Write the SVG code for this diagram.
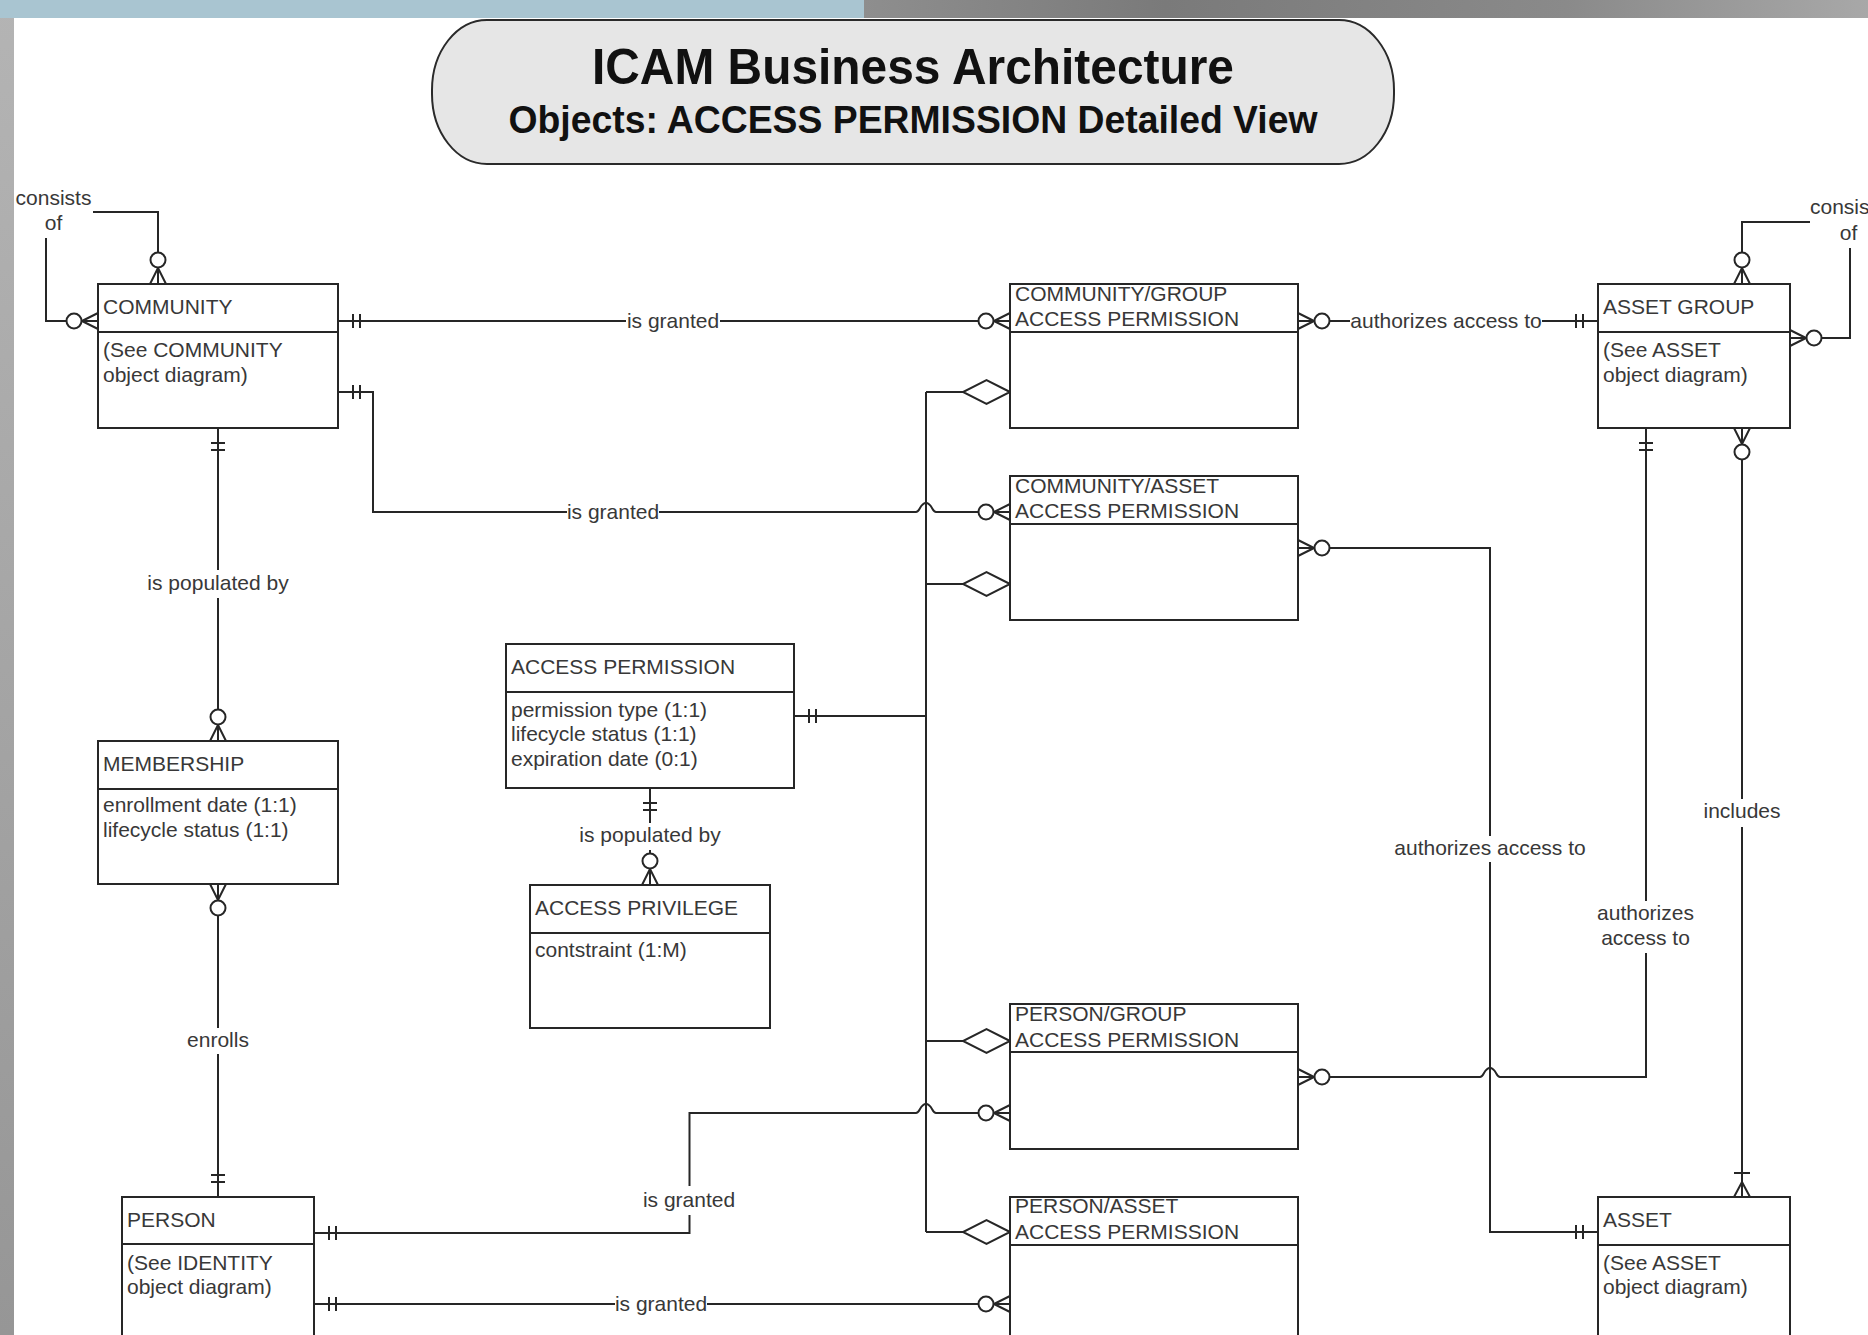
<svg xmlns="http://www.w3.org/2000/svg" xmlns:xlink="http://www.w3.org/1999/xlink" width="1868" height="1335" viewBox="0 0 1868 1335">
<style>
.box{fill:#ffffff;stroke:#262626;stroke-width:2}
.div{stroke:#262626;stroke-width:2}
.t{font-family:"Liberation Sans",Arial,sans-serif;font-size:21px;fill:#383838}
.lbl{font-family:"Liberation Sans",Arial,sans-serif;font-size:21px;fill:#383838;text-anchor:middle}
.ln{fill:none;stroke:#262626;stroke-width:2}
.sym{fill:none;stroke:#262626;stroke-width:2}
.circ{fill:#ffffff;stroke:#262626;stroke-width:2}
.title{font-family:"Liberation Sans",Arial,sans-serif;font-weight:bold;fill:#111111;text-anchor:middle}
</style>
<defs>
<linearGradient id="topg" x1="0" y1="0" x2="1" y2="0">
<stop offset="0" stop-color="#8e8e8e"/>
<stop offset="0.3" stop-color="#7a7a7a"/>
<stop offset="0.7" stop-color="#8a8a8a"/>
<stop offset="1" stop-color="#a8a8a8"/>
</linearGradient>
<linearGradient id="leftg" x1="0" y1="0" x2="0" y2="1">
<stop offset="0" stop-color="#b4b4b4"/>
<stop offset="1" stop-color="#969696"/>
</linearGradient>
<g id="zm"><path class="sym" d="M-16,0 L0,-8 M-16,0 L0,0 M-16,0 L0,8"/><circle class="circ" cx="-24" cy="0" r="7.5"/></g>
<g id="one"><path class="sym" d="M-15,-7 V7 M-22,-7 V7"/></g>
<g id="om"><path class="sym" d="M-15,0 L0,-8 M-15,0 L0,0 M-15,0 L0,8 M-24,-8 V8"/></g>
<polygon id="dia" points="0,0 -23.5,-12 -47,0 -23.5,12" fill="#ffffff" stroke="#262626" stroke-width="2"/>
</defs>
<rect x="0" y="0" width="1868" height="1335" fill="#ffffff"/>
<rect x="0" y="0" width="14" height="1335" fill="url(#leftg)"/>
<rect x="864" y="0" width="1004" height="18" fill="url(#topg)"/>
<rect x="0" y="0" width="864" height="18" fill="#a9c5d1"/>

<g id="title">
<rect x="432" y="20" width="962" height="144" rx="55" ry="70" fill="#e6e6e6" stroke="#2a2a2a" stroke-width="2"/>
<text class="title" x="913" y="84" font-size="50" textLength="642" lengthAdjust="spacingAndGlyphs">ICAM Business Architecture</text>
<text class="title" x="913" y="133" font-size="38" textLength="809" lengthAdjust="spacingAndGlyphs">Objects: ACCESS PERMISSION Detailed View</text>
</g>

<g id="connectors">
<!-- COMMUNITY self: consists of -->
<path class="ln" d="M93,212 H158 V284"/>
<path class="ln" d="M46,238 V321 H98"/>
<use xlink:href="#zm" transform="translate(158,284) rotate(90)"/>
<use xlink:href="#zm" transform="translate(98,321)"/>
<text class="lbl" x="53.5" y="205">consists</text>
<text class="lbl" x="53.5" y="229.5">of</text>

<!-- COMMUNITY -> COMMUNITY/GROUP AP -->
<path class="ln" d="M338,321 H626 M720,321 H1010"/>
<use xlink:href="#one" transform="translate(338,321) rotate(180)"/>
<use xlink:href="#zm" transform="translate(1010,321)"/>
<text class="lbl" x="673" y="328">is granted</text>

<!-- COMMUNITY/GROUP AP -> ASSET GROUP -->
<path class="ln" d="M1298,321 H1350 M1542,321 H1598"/>
<use xlink:href="#zm" transform="translate(1298,321) rotate(180)"/>
<use xlink:href="#one" transform="translate(1598,321)"/>
<text class="lbl" x="1446" y="328">authorizes access to</text>

<!-- COMMUNITY -> COMMUNITY/ASSET AP -->
<path class="ln" d="M338,392 H373 V512 H567 M659,512 H916 C920,512 920,503 926,503 C932,503 932,512 936,512 H1010"/>
<use xlink:href="#one" transform="translate(338,392) rotate(180)"/>
<use xlink:href="#zm" transform="translate(1010,512)"/>
<text class="lbl" x="613" y="519">is granted</text>

<!-- ACCESS PERMISSION bus -->
<path class="ln" d="M926,392 V1232 M926,392 H963 M926,584 H963 M794,716 H926 M926,1041 H963 M926,1232 H963"/>
<use xlink:href="#one" transform="translate(794,716) rotate(180)"/>
<use xlink:href="#dia" transform="translate(1010,392)"/>
<use xlink:href="#dia" transform="translate(1010,584)"/>
<use xlink:href="#dia" transform="translate(1010,1041)"/>
<use xlink:href="#dia" transform="translate(1010,1232)"/>

<!-- PERSON -> PERSON/GROUP AP -->
<path class="ln" d="M314,1233 H689.5 V1215 M689.5,1186 V1113 H916 C920,1113 920,1104 926,1104 C932,1104 932,1113 936,1113 H1010"/>
<use xlink:href="#one" transform="translate(314,1233) rotate(180)"/>
<use xlink:href="#zm" transform="translate(1010,1113)"/>
<text class="lbl" x="689" y="1207">is granted</text>

<!-- PERSON -> PERSON/ASSET AP -->
<path class="ln" d="M314,1304 H615 M707,1304 H1010"/>
<use xlink:href="#one" transform="translate(314,1304) rotate(180)"/>
<use xlink:href="#zm" transform="translate(1010,1304)"/>
<text class="lbl" x="661" y="1311">is granted</text>

<!-- COMMUNITY/ASSET AP -> ASSET -->
<path class="ln" d="M1298,548 H1490 V836 M1490,862 V1232 H1598"/>
<use xlink:href="#zm" transform="translate(1298,548) rotate(180)"/>
<use xlink:href="#one" transform="translate(1598,1232)"/>
<text class="lbl" x="1490" y="855">authorizes access to</text>

<!-- PERSON/GROUP AP -> ASSET GROUP -->
<path class="ln" d="M1298,1077 H1480 C1484,1077 1484,1068 1490,1068 C1496,1068 1496,1077 1500,1077 H1646 V953 M1646,901 V428"/>
<use xlink:href="#zm" transform="translate(1298,1077) rotate(180)"/>
<use xlink:href="#one" transform="translate(1646,428) rotate(-90)"/>
<text class="lbl" x="1645.5" y="919.5">authorizes</text>
<text class="lbl" x="1645.5" y="944.5">access to</text>

<!-- ASSET GROUP -> ASSET: includes -->
<path class="ln" d="M1742,428 V799 M1742,827 V1197"/>
<use xlink:href="#zm" transform="translate(1742,428) rotate(-90)"/>
<use xlink:href="#om" transform="translate(1742,1197) rotate(90)"/>
<text class="lbl" x="1742" y="818">includes</text>

<!-- ASSET GROUP self: consists of -->
<path class="ln" d="M1742,284 V222 H1810"/>
<path class="ln" d="M1850,248 V338 H1790"/>
<use xlink:href="#zm" transform="translate(1742,284) rotate(90)"/>
<use xlink:href="#zm" transform="translate(1790,338) rotate(180)"/>
<text class="t" x="1810" y="214">consists</text>
<text class="lbl" x="1848.5" y="240">of</text>

<!-- COMMUNITY -> MEMBERSHIP -->
<path class="ln" d="M218,428 V570 M218,598 V741"/>
<use xlink:href="#one" transform="translate(218,428) rotate(-90)"/>
<use xlink:href="#zm" transform="translate(218,741) rotate(90)"/>
<text class="lbl" x="218" y="590">is populated by</text>

<!-- MEMBERSHIP -> PERSON -->
<path class="ln" d="M218,884 V1028 M218,1054 V1197"/>
<use xlink:href="#zm" transform="translate(218,884) rotate(-90)"/>
<use xlink:href="#one" transform="translate(218,1197) rotate(90)"/>
<text class="lbl" x="218" y="1047">enrolls</text>

<!-- ACCESS PERMISSION -> ACCESS PRIVILEGE -->
<path class="ln" d="M650,788 V823 M650,850 V885"/>
<use xlink:href="#one" transform="translate(650,788) rotate(-90)"/>
<use xlink:href="#zm" transform="translate(650,885) rotate(90)"/>
<text class="lbl" x="650" y="842">is populated by</text>
</g>

<g id="community">
<rect class="box" x="98" y="284" width="240" height="144"/>
<line class="div" x1="98" y1="332" x2="338" y2="332"/>
<text class="t" x="103" y="313.5">COMMUNITY</text>
<text class="t" x="103" y="357">(See COMMUNITY</text>
<text class="t" x="103" y="381.5">object diagram)</text>
</g>

<g id="community-group-access-permission">
<rect class="box" x="1010" y="284" width="288" height="144"/>
<line class="div" x1="1010" y1="332" x2="1298" y2="332"/>
<text class="t" x="1015" y="300.5">COMMUNITY/GROUP</text>
<text class="t" x="1015" y="326">ACCESS PERMISSION</text>
</g>

<g id="asset-group">
<rect class="box" x="1598" y="284" width="192" height="144"/>
<line class="div" x1="1598" y1="332" x2="1790" y2="332"/>
<text class="t" x="1603" y="313.5">ASSET GROUP</text>
<text class="t" x="1603" y="357">(See ASSET</text>
<text class="t" x="1603" y="381.5">object diagram)</text>
</g>

<g id="community-asset-access-permission">
<rect class="box" x="1010" y="476" width="288" height="144"/>
<line class="div" x1="1010" y1="524" x2="1298" y2="524"/>
<text class="t" x="1015" y="492.5">COMMUNITY/ASSET</text>
<text class="t" x="1015" y="518">ACCESS PERMISSION</text>
</g>

<g id="access-permission">
<rect class="box" x="506" y="644" width="288" height="144"/>
<line class="div" x1="506" y1="692" x2="794" y2="692"/>
<text class="t" x="511" y="673.5">ACCESS PERMISSION</text>
<text class="t" x="511" y="716.5">permission type (1:1)</text>
<text class="t" x="511" y="741">lifecycle status (1:1)</text>
<text class="t" x="511" y="765.5">expiration date (0:1)</text>
</g>

<g id="membership">
<rect class="box" x="98" y="741" width="240" height="143"/>
<line class="div" x1="98" y1="789" x2="338" y2="789"/>
<text class="t" x="103" y="770.5">MEMBERSHIP</text>
<text class="t" x="103" y="812">enrollment date (1:1)</text>
<text class="t" x="103" y="836.5">lifecycle status (1:1)</text>
</g>

<g id="access-privilege">
<rect class="box" x="530" y="885" width="240" height="143"/>
<line class="div" x1="530" y1="933" x2="770" y2="933"/>
<text class="t" x="535" y="914.5">ACCESS PRIVILEGE</text>
<text class="t" x="535" y="957">contstraint (1:M)</text>
</g>

<g id="person-group-access-permission">
<rect class="box" x="1010" y="1004" width="288" height="145"/>
<line class="div" x1="1010" y1="1052" x2="1298" y2="1052"/>
<text class="t" x="1015" y="1020.5">PERSON/GROUP</text>
<text class="t" x="1015" y="1046.5">ACCESS PERMISSION</text>
</g>

<g id="person">
<rect class="box" x="122" y="1197" width="192" height="150"/>
<line class="div" x1="122" y1="1244" x2="314" y2="1244"/>
<text class="t" x="127" y="1226.5">PERSON</text>
<text class="t" x="127" y="1269.5">(See IDENTITY</text>
<text class="t" x="127" y="1294">object diagram)</text>
</g>

<g id="person-asset-access-permission">
<rect class="box" x="1010" y="1197" width="288" height="150"/>
<line class="div" x1="1010" y1="1245" x2="1298" y2="1245"/>
<text class="t" x="1015" y="1213">PERSON/ASSET</text>
<text class="t" x="1015" y="1238.5">ACCESS PERMISSION</text>
</g>

<g id="asset">
<rect class="box" x="1598" y="1197" width="192" height="150"/>
<line class="div" x1="1598" y1="1245" x2="1790" y2="1245"/>
<text class="t" x="1603" y="1226.5">ASSET</text>
<text class="t" x="1603" y="1269.5">(See ASSET</text>
<text class="t" x="1603" y="1294">object diagram)</text>
</g>
</svg>
